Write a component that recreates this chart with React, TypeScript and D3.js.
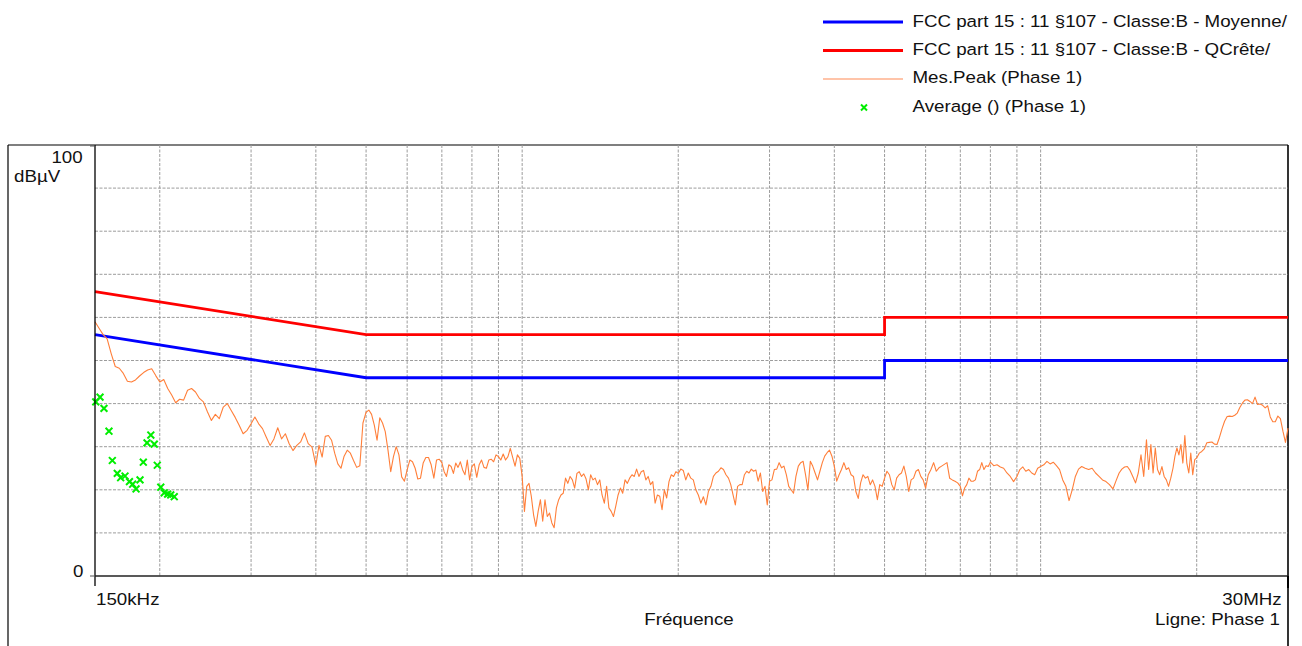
import React from "react";
import * as d3 from "d3";

const W = 1302;
const H = 646;
const FONT = "'Liberation Sans', Arial, Helvetica, sans-serif";

// FCC part 15 class B limits, frequency in MHz, level in dBµV
const limitFreq = [0.15, 0.5, 5, 5, 30];
const avgLimit = [56, 46, 46, 50, 50];
const qpLimit = [66, 56, 56, 60, 60];

// peak sweep, one block per frequency span
// (sweep points spread evenly on the log axis inside each span)
const peakSpans = [
  { from: 0.15, to: 0.2, db: [59, 57.5, 56, 55, 51.6, 48.6, 48.2, 47, 45.2, 45, 45.5, 46.4, 47.2, 47.8, 48.1, 46.5] },
  { from: 0.2, to: 0.3, db: [45, 45.6, 43.5, 42, 40.2, 41, 40.8, 43.1, 43.5, 42.7, 41.2, 40.4, 38.1, 36.1, 37.5, 36.5, 39.2, 40, 38.4, 36.8, 35, 33, 33.8] },
  { from: 0.3, to: 0.4, db: [35.3, 36.9, 35.3, 34.2, 32.2, 30.3, 31.8, 34.4, 31.8, 33, 30.7, 29.1, 30.3, 31.1, 33.2, 30.7, 29.9] },
  { from: 0.4, to: 0.5, db: [25.7, 30.3, 27.6, 32.4, 32.6, 31.5, 28.5, 26, 25, 27.8, 29.2, 28.5, 26.8, 25.2, 25.6, 35.5] },
  { from: 0.5, to: 0.6, db: [38, 38.5, 37.5, 35, 31.5, 36.7, 35.5, 33.5, 29.2, 24.2, 27.7, 30, 28.1, 23, 22] },
  { from: 0.6, to: 0.7, db: [24.6, 26.9, 26.5, 25, 22.5, 22.7, 26.2, 27.5, 27.5, 25.8, 22.7, 26.9, 27.1] },
  { from: 0.7, to: 0.8, db: [26.3, 24.2, 23.1, 25.8, 25.4, 23.8, 26.2, 25.2, 26.5, 24.6, 23.5, 26.9, 22.3] },
  { from: 0.8, to: 0.9, db: [25.4, 26, 22.9, 25.8, 26.9, 25.2, 25, 26.9, 27.1, 26.5, 28.1] },
  { from: 0.9, to: 1, db: [27.7, 26.9, 28.3, 26.9, 27.7, 29.6, 27.5, 25.5, 28.1, 27.3] },
  { from: 1, to: 1.5, db: [23.1, 15, 20.8, 21.5, 18.5, 14.2, 11.5, 15, 17.7, 12.7, 17.7, 13.8, 14.6, 12.3, 11.2, 15.8, 17.7, 18.8, 19.2, 22.7, 21.5, 23.1, 22.3, 20.4, 23.8, 24.2, 23.1, 23.7, 22.5, 20, 23.5, 22.3, 22.7, 21.2, 22.3, 18.8, 16.9, 20.8, 15.8, 15] },
  { from: 1.5, to: 2, db: [13.8, 16.2, 18.8, 20.4, 19.2, 22.3, 21.5, 22.7, 23.5, 23.1, 24.8, 23.1, 24.2, 24.5, 22.3, 23.1, 21.2, 21.9, 16.9, 18.8, 18.5, 15.4, 20, 18.1, 21.9, 23.5, 23.1, 24.2] },
  { from: 2, to: 2.5, db: [23.8, 24.8, 24.5, 22.3, 23.9, 22.7, 22.3, 20, 18.8, 16.9, 18.4, 16.5, 19.6, 20.8, 23.1, 23.9, 24.3, 25.1, 24.7, 23.5] },
  { from: 2.5, to: 3, db: [22.7, 21.2, 18.8, 16.5, 20.8, 21.2, 21.2, 23.5, 24.3, 23.9, 24.8, 24.3, 24.6, 22, 23.9, 19.6, 20.8, 16.5] },
  { from: 3, to: 4, db: [22, 22.3, 24.7, 24.8, 26.3, 25.1, 25.5, 23.5, 20.8, 20, 19.2, 23.1, 25.5, 26.3, 26.6, 23.5, 20, 26.6, 25.5, 23.9, 22.3, 24.3, 26.3, 27.8, 28.6, 29.2, 27.8] },
  { from: 4, to: 5, db: [25.5, 22, 23.5, 24.7, 26.3, 24.7, 25.1, 23.5, 23.1, 19.6, 18, 21.6, 23.5, 22.7, 23.1, 21.2, 22.3, 20.8, 17.7, 21.2, 20.8] },
  { from: 5, to: 6, db: [22.7, 24.3, 23.5, 21.2, 20, 22.7, 23.5, 23.9, 25.5, 23.1, 19.6, 22.3, 22.7, 24.3, 24.7, 23.1, 22.3] },
  { from: 6, to: 7, db: [20.4, 23.5, 24.7, 26.3, 24.3, 25.1, 25.5, 25.9, 26.3, 22.7, 22.3, 22, 21.6] },
  { from: 7, to: 8, db: [20.8, 18.6, 20.4, 21.2, 22.7, 22, 22, 22.3, 24.3, 24.7, 26.3, 24.7, 25.6, 25.4] },
  { from: 8, to: 9, db: [26.4, 25.6, 25.8, 25.3, 25, 23.9, 23.1, 21.9] },
  { from: 9, to: 10, db: [23.1, 24.7, 25.3, 24.3, 24.7, 23.9, 23.5, 25] },
  { from: 10, to: 12, db: [25.4, 25.8, 26.6, 26, 26.4, 25.6, 24.7, 22.3, 20.8, 17.5, 20, 23.1, 24.8] },
  { from: 12, to: 14, db: [25.4, 25, 24.7, 25, 23.9, 23.1, 22.3, 21.9, 21.2, 20.2] },
  { from: 14, to: 16, db: [22.3, 23.9, 24.8, 25.3, 25.4, 24.5, 23.1, 21.6, 23.9, 28.1, 23.1] },
  { from: 16, to: 18, db: [31.6, 24.7, 30.5, 23.9, 29.7, 24.7, 23.5, 25.4, 23.1, 22.3, 20.8, 22.7] },
  { from: 18, to: 20, db: [25, 27.8, 29.7, 28.1, 30.5, 26.2, 32.6, 26.2, 23.9, 28.5, 23.5, 27] },
  { from: 20, to: 30, db: [27.4, 28.5, 28.9, 29.5, 30.9, 31, 31.1, 30.6, 30.5, 32.2, 34.2, 35.9, 37, 37.1, 37, 37.3, 37.8, 39.1, 40.1, 40.8, 40.9, 40.5, 40, 41.5, 39.8, 39.9, 39.6, 39, 39.5, 36.9, 35.8, 35.8, 37.1, 36.5, 33.6, 31, 34.3] },
];

// average detector points
const avgFreq = [0.1505, 0.1534, 0.1561, 0.1596, 0.162, 0.1656, 0.1681, 0.1714, 0.1748, 0.1773, 0.18, 0.1832, 0.1859, 0.189, 0.1922, 0.1952, 0.1978, 0.2009, 0.204, 0.2071, 0.21, 0.2133];
const avgDb = [40.4, 41.5, 38.9, 33.6, 26.8, 23.8, 22.8, 23.2, 21.9, 21.3, 20.2, 22.3, 26.4, 30.9, 32.7, 30.6, 25.7, 20.6, 19.3, 19.0, 18.8, 18.4];

const xGrid = [0.2, 0.3, 0.4, 0.5, 0.6, 0.7, 0.8, 0.9, 1, 2, 3, 4, 5, 6, 7, 8, 9, 10, 20];
const yGrid = [10, 20, 30, 40, 50, 60, 70, 80, 90];

const legendLabels = [
  "FCC part 15 : 11 §107 - Classe:B - Moyenne/",
  "FCC part 15 : 11 §107 - Classe:B - QCrête/",
  "Mes.Peak (Phase 1)",
  "Average () (Phase 1)",
];

const BLUE = "#0000ff";
const RED = "#ff0000";
const ORANGE = "#ff7f3a";
const GREEN = "#00ee00";

const L = 95, R = 1288, T = 145, B = 576;

const Txt = ({ x, y, anchor = "start", children }: any) => (
  <text
    transform={`translate(${x},${y}) scale(1.15,1)`}
    textAnchor={anchor}
    fontFamily={FONT}
    fontSize={16.3}
    fill="#111"
  >
    {children}
  </text>
);

const Cross = ({ cx, cy, r }: any) => (
  <path
    d={`M${cx - r},${cy - r}L${cx + r},${cy + r}M${cx - r},${cy + r}L${cx + r},${cy - r}`}
    stroke={GREEN}
    strokeWidth={2}
    fill="none"
  />
);

export default function App() {
  const x = d3.scaleLog().domain([0.15, 30]).range([L, R]);
  const y = d3.scaleLinear().domain([0, 100]).range([B, T]);

  const line = d3
    .line<[number, number]>()
    .x((d) => x(d[0]))
    .y((d) => y(d[1]));

  const peakPts: [number, number][] = peakSpans.flatMap((s, si) => {
    const n = s.db.length;
    const div = si === peakSpans.length - 1 ? n - 1 : n;
    return s.db.map((v, i) => [s.from * Math.pow(s.to / s.from, i / div), v] as [number, number]);
  });

  const avgPath = line(limitFreq.map((f, i) => [f, avgLimit[i]]));
  const qpPath = line(limitFreq.map((f, i) => [f, qpLimit[i]]));

  const legendY = [22, 50.5, 79, 107.5];
  const legendBase = [26.7, 55, 83.3, 111.6];

  return (
    <svg
      width={W}
      height={H}
      style={{ position: "absolute", left: 0, top: 0, background: "#fff" }}
    >
      <rect x={0} y={0} width={W} height={H} fill="#fff" />

      {/* legend */}
      <g>
        <line x1={823} x2={903} y1={legendY[0]} y2={legendY[0]} stroke={BLUE} strokeWidth={2.8} />
        <line x1={823} x2={903} y1={legendY[1]} y2={legendY[1]} stroke={RED} strokeWidth={2.8} />
        <line x1={823} x2={903} y1={legendY[2]} y2={legendY[2]} stroke="#ffb08c" strokeWidth={1.3} />
        <Cross cx={864} cy={legendY[3]} r={3} />
        {legendLabels.map((s, i) => (
          <Txt key={i} x={912.5} y={legendBase[i]}>
            {s}
          </Txt>
        ))}
      </g>

      {/* outer frame */}
      <line x1={8} x2={R} y1={T} y2={T} stroke="#000" strokeWidth={1.2} />
      <line x1={8} x2={8} y1={T} y2={H} stroke="#000" strokeWidth={1.2} />
      <line x1={R} x2={R} y1={T} y2={H} stroke="#000" strokeWidth={1.6} />

      {/* grid */}
      {yGrid.map((v) => (
        <line key={"h" + v} x1={L} x2={R} y1={y(v)} y2={y(v)} stroke="#9c9c9c" strokeWidth={1} strokeDasharray="3 1.5" />
      ))}
      {xGrid.map((f) => (
        <line key={"v" + f} x1={x(f)} x2={x(f)} y1={T} y2={B} stroke="#9c9c9c" strokeWidth={1} strokeDasharray="3 1.5" />
      ))}

      {/* limits */}
      <path d={qpPath || ""} fill="none" stroke={RED} strokeWidth={2.8} />
      <path d={avgPath || ""} fill="none" stroke={BLUE} strokeWidth={2.8} />

      {/* peak trace */}
      <path d={line(peakPts) || ""} fill="none" stroke={ORANGE} strokeWidth={1.1} strokeLinejoin="round" />

      {/* average points */}
      {avgFreq.map((f, i) => (
        <Cross key={"a" + i} cx={x(f)} cy={y(avgDb[i])} r={3.4} />
      ))}

      {/* axes */}
      <line x1={L} x2={L} y1={T} y2={B + 10} stroke="#000" strokeWidth={1.3} />
      <line x1={L} x2={R} y1={B} y2={B} stroke="#222" strokeWidth={1.3} />
      <line x1={L - 5} x2={L} y1={B} y2={B} stroke="#555" strokeWidth={1} />
      <line x1={L - 5} x2={L} y1={T + 1} y2={T + 1} stroke="#555" strokeWidth={1} />
      <line x1={R} x2={R} y1={B} y2={B + 12} stroke="#000" strokeWidth={2} />

      {/* labels */}
      <Txt x={82.7} y={163} anchor="end">100</Txt>
      <Txt x={14} y={182}>dBµV</Txt>
      <Txt x={83.3} y={576.5} anchor="end">0</Txt>
      <Txt x={96} y={605}>150kHz</Txt>
      <Txt x={1281.7} y={605} anchor="end">30MHz</Txt>
      <Txt x={689} y={625} anchor="middle">Fréquence</Txt>
      <Txt x={1280} y={625} anchor="end">Ligne: Phase 1</Txt>
    </svg>
  );
}
